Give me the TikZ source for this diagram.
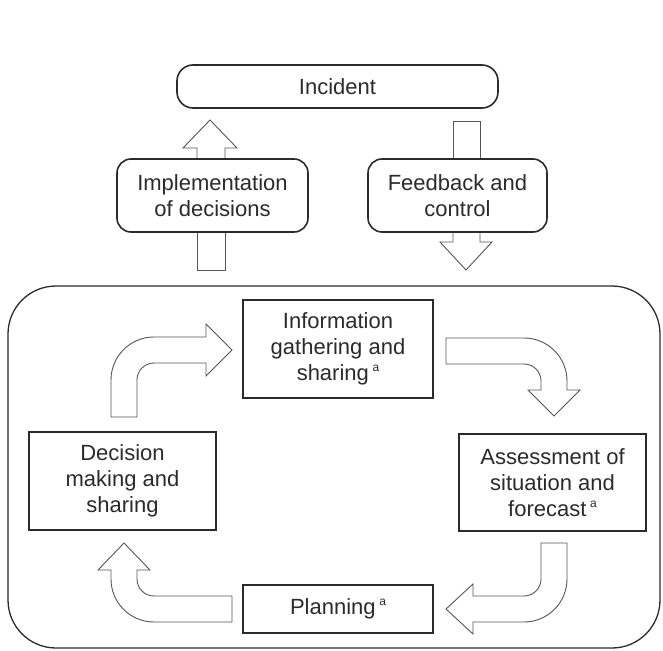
\documentclass[tikz,border=0pt]{standalone}
\usepackage{fontspec}
\setmainfont{Liberation Sans}
\definecolor{ink}{HTML}{2B2B2B}
\definecolor{arrowline}{HTML}{555555}
\newcommand{\note}{\,\raisebox{0.42em}{\fontsize{12}{12}\selectfont a}}
\tikzset{
  lbl/.style={align=center, inner sep=0pt, text=ink, font=\fontsize{22}{26}\selectfont},
  roundbox/.style={lbl, draw=ink, line width=1.6pt, fill=white, rounded corners=14pt},
  stepbox/.style={lbl, draw=ink, line width=1.8pt, fill=white},
  blockarrow/.style={draw=arrowline, line width=0.9pt, fill=white, line join=miter},
}
\begin{document}
\begin{tikzpicture}[x=1pt, y=-1pt]
\useasboundingbox (0,0) rectangle (663,650);

% outer frame around the cycle
\draw[draw=ink, line width=1.3pt, rounded corners=48pt] (8,286) rectangle (660,648);

% upper arrows (drawn first, boxes sit on top)
\draw[blockarrow] (197,160) -- (197,148) -- (183,148) -- (210,120) -- (237,148) -- (225,148) -- (225,160);
\draw[blockarrow] (197,231) -- (197,270) -- (225,270) -- (225,231);
\draw[blockarrow] (453,160) -- (453,121) -- (480,121) -- (480,160);
\draw[blockarrow] (453,231) -- (453,242) -- (440,242) -- (466,270) -- (492,242) -- (480,242) -- (480,231);

% top row
\node[roundbox, rounded corners=16pt, minimum width=321pt, minimum height=43pt] (incident) at (337.5,86.5) {Incident};
\node[roundbox, minimum width=191pt, minimum height=73pt] (impl) at (212.5,195.5) {Implementation\\of decisions};
\node[roundbox, minimum width=179pt, minimum height=73pt] (feedback) at (457.5,195.5) {Feedback and\\control};

% cycle steps
\node[stepbox, minimum width=190pt, minimum height=98pt] (info) at (338,349) {Information\\gathering and\\sharing\note};
\node[stepbox, minimum width=187pt, minimum height=98pt] (decision) at (122.5,481) {Decision\\making and\\sharing};
\node[stepbox, minimum width=187pt, minimum height=97pt] (assess) at (552.5,482.5) {Assessment of\\situation and\\forecast\note};
\node[stepbox, minimum width=190pt, minimum height=48pt] (planning) at (338,609) {Planning\note};

% curved block arrows of the cycle (quarter bends as cubic curves)
% decision -> information
\draw[blockarrow] (111,417) -- (111,380) .. controls (111,356.25) and (130.25,337) .. (154,337)
  -- (206,337) -- (206,324) -- (232,350) -- (206,376) -- (206,363) -- (154,363)
  .. controls (144.6,363) and (137,370.6) .. (137,380) -- (137,417) -- cycle;
% information -> assessment
\draw[blockarrow] (446,338) -- (524,338) .. controls (547.75,338) and (567,357.25) .. (567,381)
  -- (567,390) -- (580,390) -- (554,416) -- (528,390) -- (541,390) -- (541,381)
  .. controls (541,371.6) and (533.4,364) .. (524,364) -- (446,364) -- cycle;
% assessment -> planning
\draw[blockarrow] (567,543) -- (567,579) .. controls (567,602.75) and (547.75,622) .. (524,622)
  -- (473,622) -- (473,634) -- (446,609) -- (473,584) -- (473,596) -- (524,596)
  .. controls (533.4,596) and (541,588.4) .. (541,579) -- (541,543) -- cycle;
% planning -> decision
\draw[blockarrow] (232,622) -- (154,622) .. controls (130.25,622) and (111,602.75) .. (111,579)
  -- (111,570) -- (98,570) -- (124,543) -- (150,570) -- (137,570) -- (137,579)
  .. controls (137,588.4) and (144.6,596) .. (154,596) -- (232,596) -- cycle;
\end{tikzpicture}
\end{document}
